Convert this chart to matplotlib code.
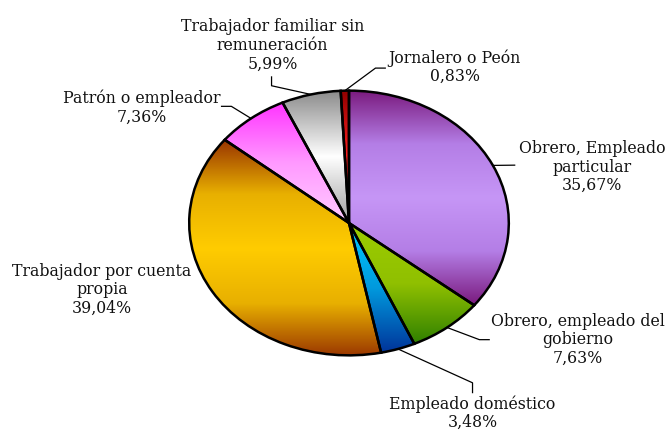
import numpy as np
import matplotlib
matplotlib.use("Agg")
import matplotlib.pyplot as plt
from matplotlib.colors import LinearSegmentedColormap

labels = ["Obrero, Empleado\nparticular", "Obrero, empleado del\ngobierno",
          "Empleado doméstico", "Trabajador por cuenta\npropia",
          "Patrón o empleador", "Trabajador familiar sin\nremuneración",
          "Jornalero o Peón"]
values = [35.67, 7.63, 3.48, 39.04, 7.36, 5.99, 0.83]
pct_text = ["35,67%", "7,63%", "3,48%", "39,04%", "7,36%", "5,99%", "0,83%"]

# top -> bottom gradient stops for each slice
gradients = [
    ["#7a1a7e", "#b47ee6", "#c696f6", "#b47ee6", "#7a1a7e"],
    ["#9ccc00", "#90c000", "#2f8000"],
    ["#00ccff", "#0099dd", "#003399"],
    ["#983300", "#e8b000", "#ffcc00", "#e8b000", "#983300"],
    ["#ff33ff", "#ff99ff", "#ffccff"],
    ["#8a8a8a", "#ffffff", "#a0a0a0"],
    ["#900000", "#ff2020", "#900000"],
]

# pie geometry in pixels (center / radii) for placing the axes
W, H = 672, 432
cx, cy, rx, ry = 349, 223, 163, 135


def px(x, y):
    return ((x - cx) / rx, (cy - y) / ry)


# label centers and leader bends (pixels)
text_pos = [(597, 166), (582, 342), (475, 417), (97, 291),
            (138, 105), (271, 42), (457, 64)]
leaders = [
    [(518, 164)],
    [(482, 342), (492, 342)],
    [(475, 386), (475, 396)],
    None,
    [(229, 104), (219, 104)],
    [(270, 83), (270, 74)],
    [(376, 65), (386, 65)],
]

fig = plt.figure(figsize=(W / 100, H / 100), dpi=100)
ax = fig.add_axes([(cx - rx) / W, (H - cy - ry) / H, 2 * rx / W, 2 * ry / H])

wedges, _ = ax.pie(values, startangle=90, counterclock=False, radius=1,
                   colors=["none"] * len(values),
                   wedgeprops=dict(edgecolor="black", linewidth=1.8))

for w, stops in zip(wedges, gradients):
    w.set_zorder(3)
    v = w.get_path().vertices
    x0, x1 = v[:, 0].min(), v[:, 0].max()
    y0, y1 = v[:, 1].min(), v[:, 1].max()
    cmap = LinearSegmentedColormap.from_list("g", stops)
    grad = np.linspace(0, 1, 256).reshape(-1, 1)
    im = ax.imshow(grad, cmap=cmap, extent=(x0, x1, y0, y1), origin="upper",
                   aspect="auto", interpolation="bilinear", zorder=2)
    im.set_clip_path(w)

ax.set_xlim(-1.02, 1.02)
ax.set_ylim(-1.02, 1.02)
ax.set_aspect("auto")
ax.axis("off")

total = sum(values)
start = 0.0
for i, v in enumerate(values):
    mid = np.deg2rad((start + v / 2) / total * 360)
    start += v
    tx, ty = px(*text_pos[i])
    ax.text(tx, ty, labels[i] + "\n" + pct_text[i], ha="center", va="center",
            fontsize=11.3, family="DejaVu Serif", linespacing=1.12, color="#111111")
    if leaders[i] is not None:
        pts = [(np.sin(mid), np.cos(mid))] + [px(*p) for p in leaders[i]]
        xs, ys = zip(*pts)
        ax.plot(xs, ys, color="black", lw=0.9, clip_on=False, zorder=4)

fig.savefig("out.png", dpi=100)
